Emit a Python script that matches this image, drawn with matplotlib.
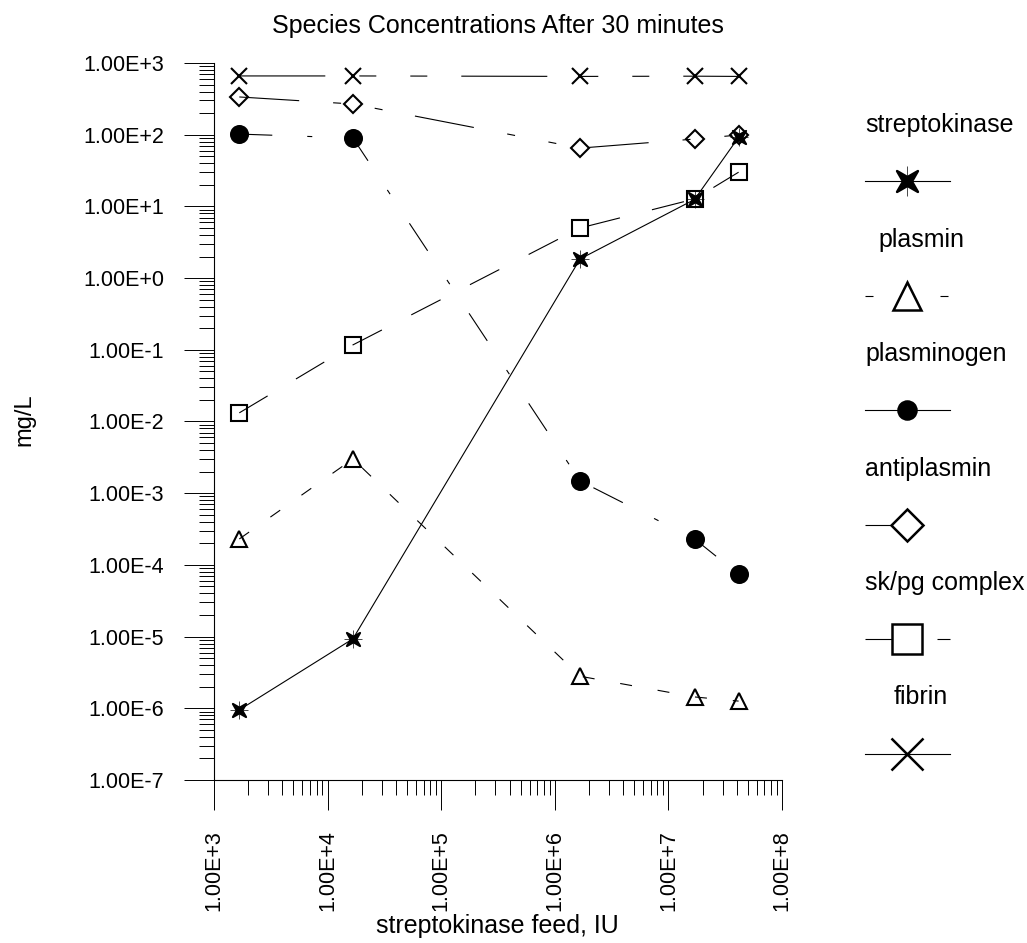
import numpy as np
import matplotlib
matplotlib.use('Agg')
import matplotlib.pyplot as plt
from matplotlib.lines import Line2D
from matplotlib.path import Path
from matplotlib.transforms import Affine2D
from matplotlib.ticker import LogLocator, FuncFormatter, NullFormatter

plt.rcParams['font.family'] = ['Liberation Sans', 'DejaVu Sans']
plt.rcParams['lines.scale_dashes'] = False

# data
feed = [1.67e3, 1.67e4, 1.67e6, 1.7e7, 4.15e7]
streptokinase = [9.5e-7, 9.3e-6, 1.85, 12.5, 92]
plasmin = [2.3e-4, 3.0e-3, 2.8e-6, 1.44e-6, 1.26e-6]
plasminogen = [102, 90, 1.48e-3, 2.3e-4, 7.4e-5]
antiplasmin = [336, 268, 65, 87, 99]
skpg_complex = [0.0132, 0.117, 5.0, 12.7, 30]
fibrin = [660, 660, 650, 655, 650]
names = ['streptokinase', 'plasmin', 'plasminogen', 'antiplasmin',
         'sk/pg complex', 'fibrin']
series = [streptokinase, plasmin, plasminogen, antiplasmin, skpg_complex, fibrin]

W, H = 1027, 943
PX = 0.72  # px -> pt at dpi 100

star = Path.unit_regular_star(4, 0.3).transformed(Affine2D().rotate_deg(45))

# marker, plot size, legend size, filled, dash pattern (px), legend dash (px)
styles = [
    (star, 9.5, 15, True, None, None),
    ('^', 11.5, 20, False, (12, 26), (8, 67)),
    ('o', 12.2, 13, True, (33, 35, 5, 35), None),
    ('D', 8.7, 16, False, (60, 34, 8, 34, 8, 33), (40, 100)),
    ('s', 12.2, 21.6, False, (33, 33), (32, 40, 15, 40)),
    ('x', 12, 23, False, (86, 34, 17, 34, 17, 34), None),
]


def linestyle(d):
    if d is None:
        return '-'
    return (0, tuple(v * PX for v in d))


fig = plt.figure(figsize=(W / 100, H / 100), dpi=100)
ax = fig.add_axes([214 / W, 1 - 780 / H, (782 - 214) / W, (780 - 63) / H])

for vals, (mk, ms, lms, filled, dash, ldash) in zip(series, styles):
    ax.plot(feed, vals, color='black', lw=0.8, ls=linestyle(dash),
            marker=mk, ms=ms, mew=1.5, mec='black',
            mfc='black' if filled else 'none')
    if mk is star:
        ax.plot(feed, vals, ls='none', marker='+', ms=ms * 1.4, mew=0.5,
                color='black')

ax.set_xscale('log')
ax.set_yscale('log')
ax.set_xlim(1e3, 1e8)
ax.set_ylim(1e-7, 1e3)

fmt = FuncFormatter(lambda v, pos: '1.00E%+d' % int(round(np.log10(v))))
for axis in (ax.xaxis, ax.yaxis):
    axis.set_major_locator(LogLocator(base=10, numticks=20))
    axis.set_minor_locator(LogLocator(base=10, subs=np.arange(2, 10), numticks=20))
    axis.set_major_formatter(fmt)
    axis.set_minor_formatter(NullFormatter())

ax.tick_params(which='major', direction='out', length=30 * PX, width=0.7,
               pad=20 * PX, labelsize=15.5)
ax.tick_params(which='minor', direction='out', length=15 * PX, width=0.7)
plt.setp(ax.get_xticklabels(), rotation=90)

for s in ('top', 'right'):
    ax.spines[s].set_visible(False)
for s in ('left', 'bottom'):
    ax.spines[s].set_linewidth(0.8)

fig.text(498 / W, 1 - 33 / H, 'Species Concentrations After 30 minutes',
         ha='center', va='baseline', fontsize=18)
fig.text(497 / W, 1 - 933 / H, 'streptokinase feed, IU',
         ha='center', va='baseline', fontsize=18)
fig.text(24 / W, 1 - 420 / H, 'mg/L', rotation=90, ha='center', va='center',
         fontsize=17)

# legend: label above a short sample of each line
labels = []
for i, (name, (mk, ms, lms, filled, dash, ldash)) in enumerate(zip(names, styles)):
    ly = 125 + i * 114.5
    my = ly + 56
    t = fig.text(865 / W, 1 - ly / H, name, ha='left', va='center', fontsize=18)
    labels.append(t)
    fig.add_artist(Line2D([865 / W, 950 / W], [1 - my / H, 1 - my / H],
                          transform=fig.transFigure, color='black', lw=0.8,
                          ls=linestyle(ldash)))
    fig.add_artist(Line2D([907 / W], [1 - my / H], transform=fig.transFigure,
                          ls='none', marker=mk, ms=lms, mew=1.8, mec='black',
                          mfc='black' if filled else 'white'))
    if mk is star:
        fig.add_artist(Line2D([907 / W], [1 - my / H], transform=fig.transFigure,
                              ls='none', marker='+', ms=lms * 1.4, mew=0.5,
                              color='black'))

fig.canvas.draw()
for t in labels:
    w = t.get_window_extent().width
    if 865 + w / 2 < 921:
        t.set_x((921 - w / 2) / W)

fig.savefig('out.png', dpi=100)
